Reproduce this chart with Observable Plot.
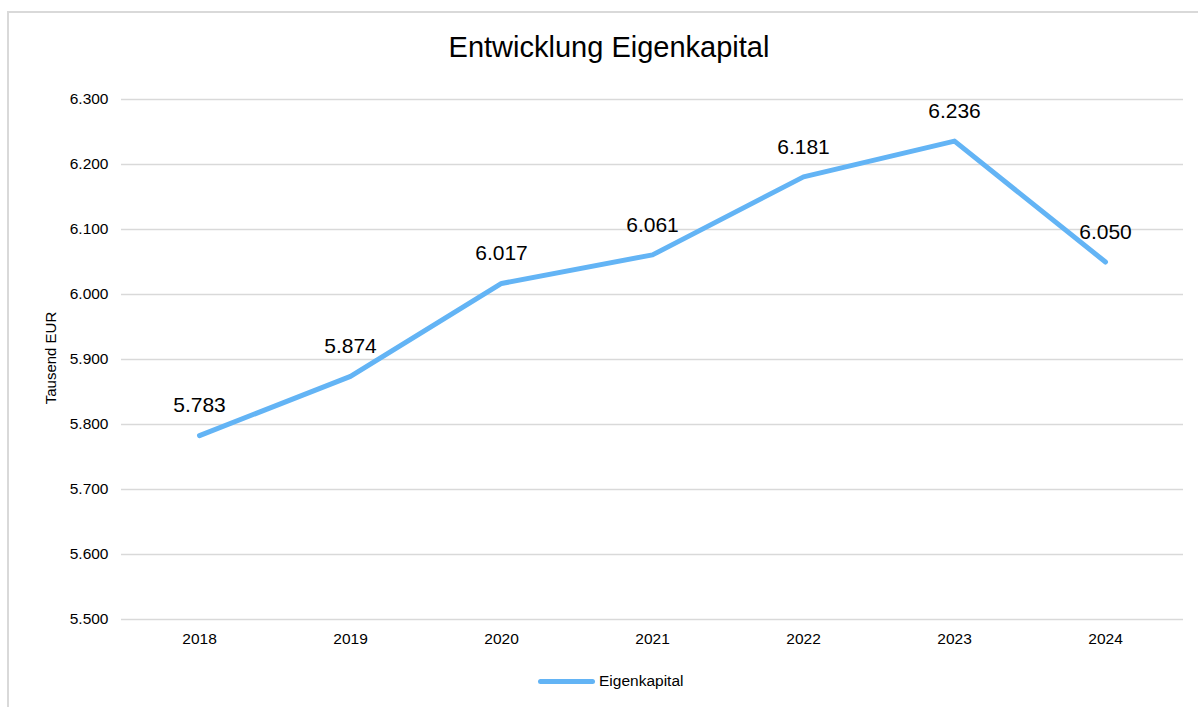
<!DOCTYPE html>
<html>
<head>
<meta charset="utf-8">
<script src="https://cdn.jsdelivr.net/npm/d3@7"></script>
<script src="https://cdn.jsdelivr.net/npm/@observablehq/plot@0.6"></script>
<style>
  html, body { margin: 0; padding: 0; background: #fff; overflow: hidden; width: 1198px; height: 707px; }
  body { position: relative; font-family: "Liberation Sans", Arial, sans-serif; color: #000; }
  #frame { position: absolute; left: 7px; top: 11px; width: 1400px; height: 900px; border: 2px solid #d9d9d9; box-sizing: border-box; }
  #chart { position: absolute; left: 0; top: 0; }
  #title { position: absolute; left: 0; width: 1218px; top: 30px; text-align: center; font-size: 29px; line-height: 34px; }
  #ylabel { position: absolute; left: 50px; top: 358px; transform: translate(-50%, -50%) rotate(-90deg); font-size: 15px; white-space: nowrap; }
  #legend { position: absolute; left: 538px; top: 672px; display: flex; align-items: center; font-size: 15.5px; }
  #legend .sw { width: 57px; height: 5px; border-radius: 3px; background: #63b4f5; margin-right: 4px; }
</style>
</head>
<body>
<div id="frame"></div>
<div id="chart"></div>
<div id="title">Entwicklung Eigenkapital</div>
<div id="ylabel">Tausend EUR</div>
<div id="legend"><div class="sw"></div><span>Eigenkapital</span></div>
<script>
const years = ["2018", "2019", "2020", "2021", "2022", "2023", "2024"];
const eigenkapital = [5783, 5874, 6017, 6061, 6181, 6236, 6050];
const yTicks = [5500, 5600, 5700, 5800, 5900, 6000, 6100, 6200, 6300];

const de = d3.formatLocale({decimal: ",", thousands: ".", grouping: [3], currency: ["", " €"]});
const fmt = de.format(",.0f");

const data = years.map((y, i) => ({year: y, value: eigenkapital[i]}));

const chart = Plot.plot({
  width: 1198,
  height: 707,
  marginTop: 99,
  marginBottom: 88,
  marginLeft: 121,
  marginRight: 15,
  style: {fontFamily: "Liberation Sans, Arial, sans-serif", fontSize: "15.5px", color: "#000", background: "transparent", overflow: "visible"},
  x: {type: "point", domain: years, padding: 0.5, label: null},
  y: {domain: [5500, 6300], label: null},
  marks: [
    Plot.gridY(yTicks, {stroke: "#d9d9d9", strokeOpacity: 1, strokeWidth: 1.5}),
    Plot.axisY(yTicks, {tickSize: 0, tickPadding: 13, tickFormat: fmt, label: null, fontSize: 15.5}),
    Plot.axisX({tickSize: 0, tickPadding: 13, label: null, fontSize: 15.5}),
    Plot.line(data, {x: "year", y: "value", stroke: "#63b4f5", strokeWidth: 5, strokeLinecap: "round", strokeLinejoin: "round"}),
    Plot.text(data, {x: "year", y: "value", text: d => fmt(d.value), dy: -30, fontSize: 21, fill: "#000"})
  ]
});
document.getElementById("chart").appendChild(chart);
</script>
</body>
</html>
